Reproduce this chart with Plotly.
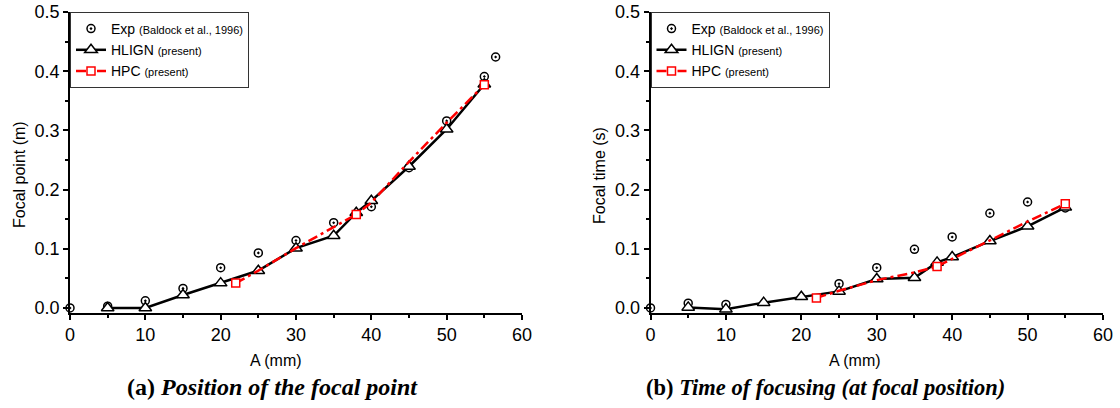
import plotly.graph_objects as go

# ---------------- data: (a) position of focal point ----------------
exp_A_a = [0, 5, 10, 15, 20, 25, 30, 35, 40, 45, 50, 55, 56.5]
exp_a = [0.0, 0.003, 0.012, 0.033, 0.068, 0.093, 0.114, 0.144, 0.171, 0.237, 0.316, 0.391, 0.424]

hlign_A_a = [5, 10, 15, 20, 25, 30, 35, 38, 40, 45, 50, 55]
hlign_a = [0.0, 0.0, 0.022, 0.042, 0.063, 0.101, 0.122, 0.161, 0.181, 0.239, 0.302, 0.378]

hpc_A_a = [22, 25, 30, 35, 38, 40, 45, 50, 55]
hpc_a = [0.042, 0.063, 0.101, 0.136, 0.158, 0.178, 0.247, 0.313, 0.377]
hpc_mark_a = [True, False, False, False, True, False, False, False, True]

# ---------------- data: (b) time of focusing ----------------
exp_A_b = [0, 5, 10, 25, 30, 35, 40, 45, 50, 55]
exp_b = [0.0, 0.008, 0.006, 0.041, 0.068, 0.099, 0.120, 0.160, 0.179, 0.169]

hlign_A_b = [5, 10, 15, 20, 25, 30, 35, 38, 40, 45, 50, 55]
hlign_b = [0.001, -0.002, 0.009, 0.019, 0.028, 0.049, 0.051, 0.077, 0.086, 0.113, 0.138, 0.170]

hpc_A_b = [22, 25, 30, 35, 38, 40, 45, 50, 55]
hpc_b = [0.017, 0.029, 0.047, 0.060, 0.070, 0.083, 0.114, 0.146, 0.176]
hpc_mark_b = [True, False, False, False, True, False, False, False, True]

x_ticks = [0, 10, 20, 30, 40, 50, 60]
y_ticks = [0.0, 0.1, 0.2, 0.3, 0.4, 0.5]

x_title = "A (mm)"
y_title_a = "Focal point (m)"
y_title_b = "Focal time (s)"
caption_a = "<b>(a)</b> <b><i>Position of the focal point</i></b>"
caption_b = "<b>(b)</b> <b><i>Time of focusing (at focal position)</i></b>"

names = [
    "Exp <span style='font-size:11px'>(Baldock et al., 1996)</span>",
    "HLIGN <span style='font-size:11px'>(present)</span>",
    "HPC <span style='font-size:11px'>(present)</span>",
]

W, H = 1120, 408
SANS = "Liberation Sans, Arial, sans-serif"
SERIF = "Liberation Serif, Times New Roman, serif"

fig = go.Figure()


def add_panel(xa, ya, legend, eA, ev, hA, hv, pA, pv, pm):
    fig.add_trace(go.Scatter(
        x=eA, y=ev, mode="markers", name=names[0], xaxis=xa, yaxis=ya, legend=legend,
        marker=dict(symbol="circle-open-dot", size=8, color="black", line=dict(width=1.5, color="black")),
        cliponaxis=False,
    ))
    fig.add_trace(go.Scatter(
        x=hA, y=hv, mode="lines+markers", name=names[1], xaxis=xa, yaxis=ya, legend=legend,
        line=dict(color="black", width=2.5),
        marker=dict(symbol="triangle-up", size=11, color="white", line=dict(width=1.5, color="black")),
        cliponaxis=False,
    ))
    fig.add_trace(go.Scatter(
        x=pA, y=pv, mode="lines+markers", name=names[2], xaxis=xa, yaxis=ya, legend=legend,
        line=dict(color="#ff0000", width=2.5, dash="10px,4px,3px,4px"),
        marker=dict(symbol="square", size=8,
                    color=["white" if m else "rgba(0,0,0,0)" for m in pm],
                    line=dict(width=1.5, color=["#ff0000" if m else "rgba(0,0,0,0)" for m in pm])),
        cliponaxis=False,
    ))


add_panel("x", "y", "legend", exp_A_a, exp_a, hlign_A_a, hlign_a, hpc_A_a, hpc_a, hpc_mark_a)
add_panel("x2", "y2", "legend2", exp_A_b, exp_b, hlign_A_b, hlign_b, hpc_A_b, hpc_b, hpc_mark_b)

y_top, y_bot = 12, 313
ydom = [1 - y_bot / H, 1 - y_top / H]

axis_common = dict(
    showline=True, linecolor="black", linewidth=1.5, mirror=False,
    ticks="outside", ticklen=5, tickwidth=1.5, tickcolor="black",
    showgrid=False, zeroline=False,
    tickfont=dict(family=SANS, size=18, color="black"),
)

xax = dict(axis_common, range=[0, 60], tickvals=x_ticks,
           minor=dict(ticks="outside", ticklen=3, tickwidth=1.5, tickcolor="black", dtick=5, showgrid=False))
yax = dict(axis_common, range=[-0.0085, 0.5], tickvals=y_ticks, tickformat=".1f",
           minor=dict(ticks="outside", ticklen=3, tickwidth=1.5, tickcolor="black", dtick=0.05, tick0=0, showgrid=False))

legend_common = dict(y=1 - y_top / H, xanchor="left", yanchor="top",
                     bordercolor="#333", borderwidth=1, bgcolor="white",
                     font=dict(family=SANS, size=14, color="black"),
                     tracegroupgap=0, itemwidth=30, traceorder="normal")

fig.update_layout(
    width=W, height=H,
    margin=dict(l=0, r=0, t=0, b=0, autoexpand=False),
    paper_bgcolor="white", plot_bgcolor="white",
    xaxis=dict(xax, domain=[70 / W, 522 / W], anchor="y"),
    yaxis=dict(yax, domain=ydom, anchor="x"),
    xaxis2=dict(xax, domain=[650.5 / W, 1103 / W], anchor="y2"),
    yaxis2=dict(yax, domain=ydom, anchor="x2"),
    legend=dict(legend_common, x=70 / W),
    legend2=dict(legend_common, x=650.5 / W),
    showlegend=True,
)

def note(text, x, y, size, family, angle=0):
    return dict(text=text, x=x / W, y=1 - y / H, xref="paper", yref="paper",
                xanchor="center", yanchor="middle", textangle=angle,
                showarrow=False, font=dict(family=family, size=size, color="black"))

ann = [
    note(x_title, 276, 360, 16, SANS),
    note(x_title, 855, 360, 16, SANS),
    note(y_title_a, 19, 175, 16, SANS, -90),
    note(y_title_b, 599, 176, 16, SANS, -90),
    note(caption_a, 272, 387, 24, SERIF),
    note(caption_b, 825, 387, 22.5, SERIF),
]
fig.update_layout(annotations=ann)

fig.write_html("out.html", config={"displayModeBar": False},
               post_script="document.body.style.margin='0';document.body.style.overflow='hidden';")
